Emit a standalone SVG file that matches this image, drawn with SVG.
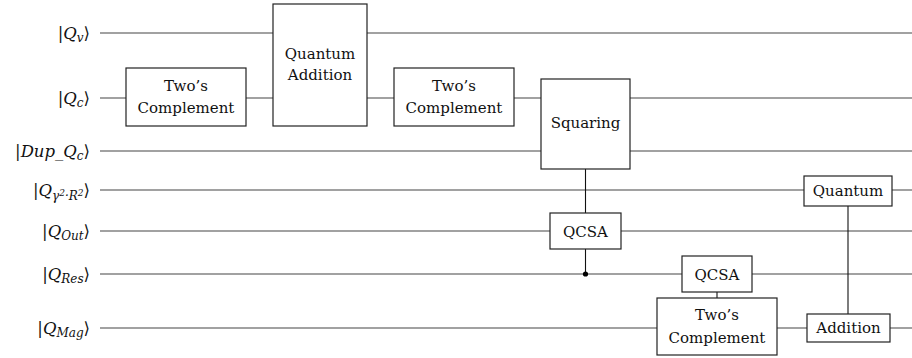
<svg xmlns="http://www.w3.org/2000/svg" width="912" height="358" viewBox="0 0 912 358">
<style>
.wire{stroke:#444;stroke-width:1.1;fill:none}
.conn{stroke:#111;stroke-width:1.1;fill:none}
.box{fill:#fff;stroke:#222;stroke-width:1.2}
text{font-family:'DejaVu Serif','Liberation Serif',serif;fill:#111}
.t{font-size:15px;text-anchor:middle}
.lbl{font-size:16.5px;text-anchor:end}
.m{font-style:italic}
.s{font-size:12px;font-style:italic}
.ss{font-size:9px;font-style:italic}
</style>
<g id="wires" class="wire">
<line x1="100" y1="33" x2="912" y2="33"/>
<line x1="100" y1="98" x2="912" y2="98"/>
<line x1="100" y1="151" x2="912" y2="151"/>
<line x1="100" y1="190" x2="912" y2="190"/>
<line x1="100" y1="231" x2="912" y2="231"/>
<line x1="100" y1="274" x2="912" y2="274"/>
<line x1="100" y1="328" x2="912" y2="328"/>
</g>
<g id="labels">
<text class="lbl" x="90" y="39">|<tspan class="m">Q</tspan><tspan class="s" dy="3">v</tspan><tspan dy="-3">⟩</tspan></text>
<text class="lbl" x="90" y="104">|<tspan class="m">Q</tspan><tspan class="s" dy="3">c</tspan><tspan dy="-3">⟩</tspan></text>
<text class="lbl" x="90" y="157">|<tspan class="m">Dup</tspan>_<tspan class="m">Q</tspan><tspan class="s" dy="3">c</tspan><tspan dy="-3">⟩</tspan></text>
<text class="lbl" x="90" y="196">|<tspan class="m">Q</tspan><tspan class="s" dy="4">γ</tspan><tspan class="ss" dy="-4">2</tspan><tspan class="s" dy="4">·R</tspan><tspan class="ss" dy="-4">2</tspan><tspan dy="0">⟩</tspan></text>
<text class="lbl" x="90" y="237">|<tspan class="m">Q</tspan><tspan class="s" dy="3">Out</tspan><tspan dy="-3">⟩</tspan></text>
<text class="lbl" x="90" y="280">|<tspan class="m">Q</tspan><tspan class="s" dy="3">Res</tspan><tspan dy="-3">⟩</tspan></text>
<text class="lbl" x="90" y="334">|<tspan class="m">Q</tspan><tspan class="s" dy="3">Mag</tspan><tspan dy="-3">⟩</tspan></text>
</g>
<g id="connectors" class="conn">
<line x1="585.5" y1="169" x2="585.5" y2="213"/>
<line x1="585.5" y1="249" x2="585.5" y2="274"/>
<circle cx="585.5" cy="274" r="2.6" fill="#000" stroke="none"/>
<line x1="717" y1="292" x2="717" y2="298"/>
<line x1="848" y1="206" x2="848" y2="314"/>
</g>
<g id="twos1"><rect class="box" x="126" y="68" width="120" height="58"/><text class="t" x="186" y="91">Two’s</text><text class="t" x="186" y="113">Complement</text></g>
<g id="qadd"><rect class="box" x="273" y="4" width="94" height="122"/><text class="t" x="320" y="59">Quantum</text><text class="t" x="320" y="80">Addition</text></g>
<g id="twos2"><rect class="box" x="394" y="68" width="120" height="58"/><text class="t" x="454" y="91">Two’s</text><text class="t" x="454" y="113">Complement</text></g>
<g id="squaring"><rect class="box" x="541" y="79" width="89" height="90"/><text class="t" x="585.5" y="128">Squaring</text></g>
<g id="qcsa1"><rect class="box" x="550" y="213" width="71" height="36"/><text class="t" x="585.5" y="237">QCSA</text></g>
<g id="quantum"><rect class="box" x="804" y="176" width="88" height="30"/><text class="t" x="848" y="196">Quantum</text></g>
<g id="qcsa2"><rect class="box" x="682" y="256" width="70" height="36"/><text class="t" x="717" y="280">QCSA</text></g>
<g id="twos3"><rect class="box" x="657" y="298" width="120" height="57"/><text class="t" x="717" y="320">Two’s</text><text class="t" x="717" y="343">Complement</text></g>
<g id="addition"><rect class="box" x="807" y="314" width="83" height="28"/><text class="t" x="848.5" y="333">Addition</text></g>
</svg>
